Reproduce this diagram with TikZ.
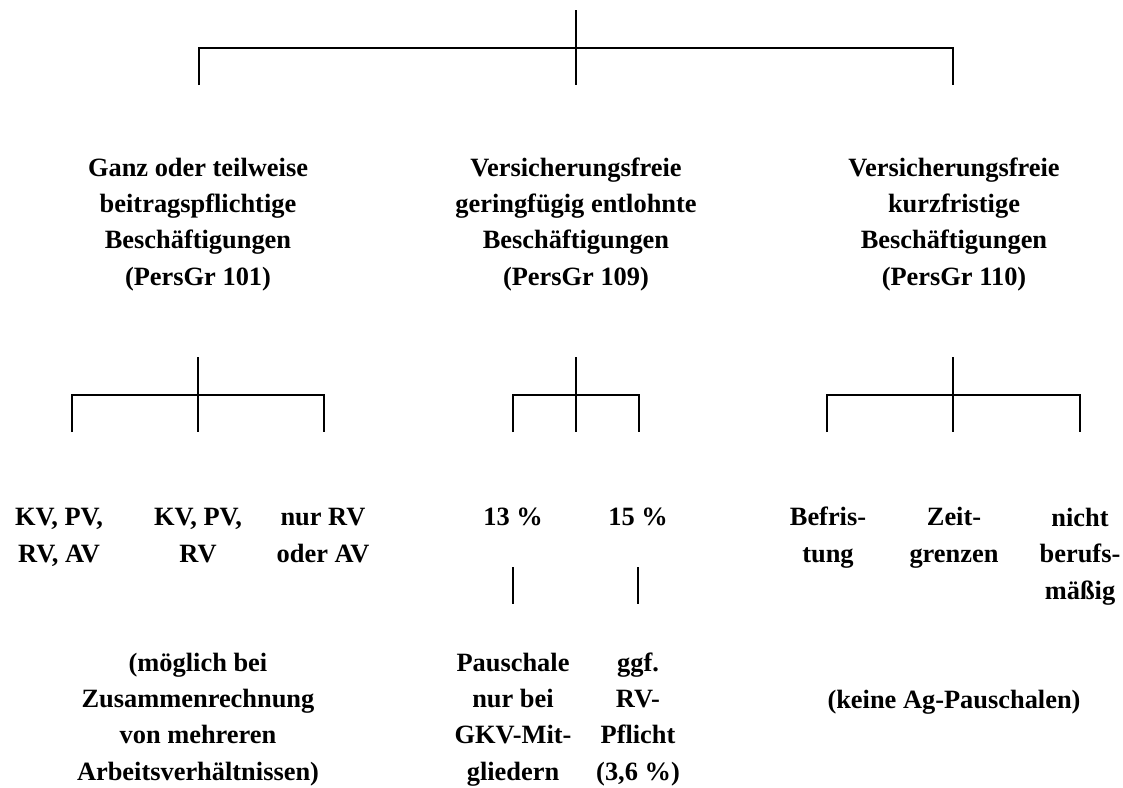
\documentclass[tikz,border=0pt]{standalone}
\usepackage{fontspec}
\setmainfont{Liberation Serif}
\usetikzlibrary{positioning}

\begin{document}
\begin{tikzpicture}[x=0.5pt, y=-0.5pt,
    txt/.style={font=\bfseries\fontsize{13.2}{18.1}\selectfont, align=center, inner sep=0pt, anchor=base},
    branch/.style={line width=0.9pt}]
    \useasboundingbox (0,0) rectangle (1123,787);

    % Top level (nodes placed by the baseline of their last line)
    \coordinate (top) at (576,10);
    \coordinate (split) at (576,48);
    \coordinate (leg101) at (199,85);
    \coordinate (leg109) at (576,85);
    \coordinate (leg110) at (953,85);

    \node (g101) [txt] at (198,285) {Ganz oder teilweise\\beitragspflichtige\\Beschäftigungen\\(PersGr 101)};
    \node (g109) [txt] at (576,285) {Versicherungsfreie\\geringfügig entlohnte\\Beschäftigungen\\(PersGr 109)};
    \node (g110) [txt] at (954,285) {Versicherungsfreie\\kurzfristige\\Beschäftigungen\\(PersGr 110)};

    % Second level
    \node (kvall) [txt] at (59,562) {KV, PV,\\RV, AV};
    \node (kvrv) [txt] at (198,562) {KV, PV,\\RV};
    \node (nurrv) [txt] at (323,562) {nur RV\\oder AV};
    \node (p13) [txt] at (513,525) {13 \%};
    \node (p15) [txt] at (638,525) {15 \%};
    \node (befr) [txt] at (828,562) {Befris-\\tung};
    \node (zeit) [txt] at (954,562) {Zeit-\\grenzen};
    \node (beruf) [txt] at (1080,599) {nicht\\berufs-\\mäßig};

    % Third level
    \node (zusamm) [txt] at (198,780) {(möglich bei\\Zusammenrechnung\\von mehreren\\Arbeitsverhältnissen)};
    \node (gkv) [txt] at (513,780) {Pauschale\\nur bei\\GKV-Mit-\\gliedern};
    \node (rvpfl) [txt] at (638,780) {ggf.\\RV-\\Pflicht\\(3,6 \%)};
    \node (keine) [txt] at (954,708) {(keine Ag-Pauschalen)};

    % Branches
    \draw[branch] (top) -- (leg109);
    \draw[branch] (leg101) |- (split) -| (leg110);

    \coordinate (s101) at (198,357);
    \coordinate (b101) at (198,395);
    \draw[branch] (s101) -- (b101 |- 0,432);
    \draw[branch] (72,432) |- (b101) -| (324,432);

    \coordinate (s109) at (576,357);
    \coordinate (b109) at (576,395);
    \draw[branch] (s109) -- (b109 |- 0,432);
    \draw[branch] (513,432) |- (b109) -| (639,432);

    \coordinate (s110) at (953,357);
    \coordinate (b110) at (953,395);
    \draw[branch] (s110) -- (b110 |- 0,432);
    \draw[branch] (827,432) |- (b110) -| (1080,432);

    \draw[branch] (p13.south |- 0,567) -- (p13.south |- 0,604);
    \draw[branch] (p15.south |- 0,567) -- (p15.south |- 0,604);
\end{tikzpicture}
\end{document}
